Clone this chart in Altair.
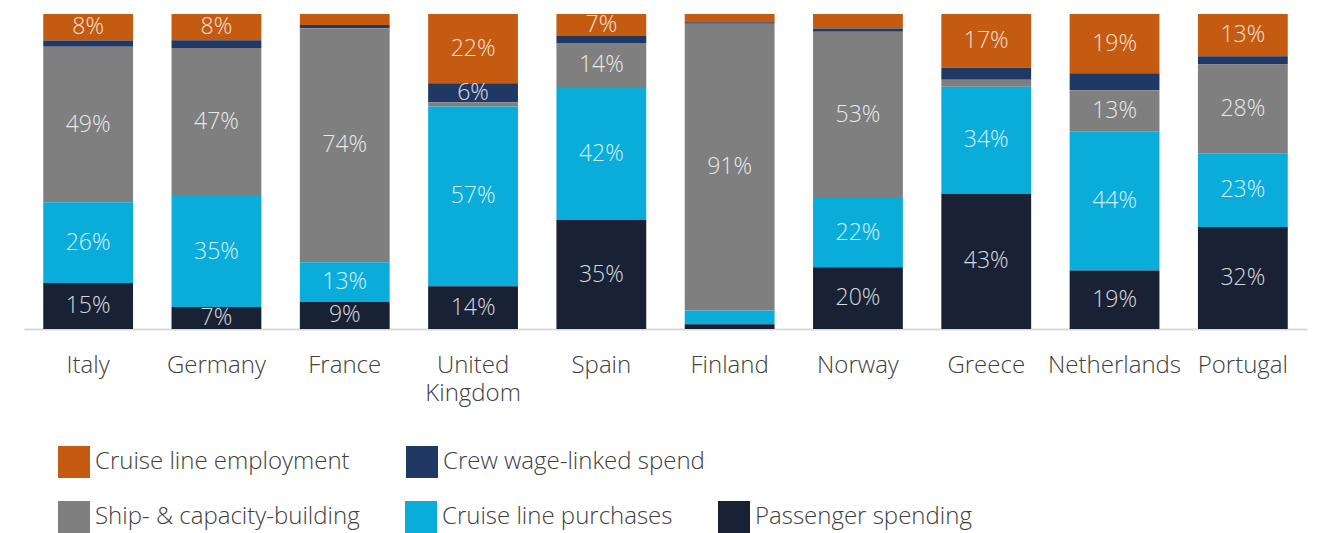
import altair as alt
import pandas as pd

countries = ["Italy", "Germany", "France", "United Kingdom", "Spain",
             "Finland", "Norway", "Greece", "Netherlands", "Portugal"]
categories = ["Cruise line employment", "Crew wage-linked spend",
              "Ship- & capacity-building", "Cruise line purchases",
              "Passenger spending"]
employment = [8.4, 8.3, 3.5, 22, 7, 2.6, 4.6, 17.1, 18.8, 13.4]
crew = [2, 2.5, 1, 6, 2.2, 0.5, 1, 3.8, 5.4, 2.6]
ship = [49.4, 47, 74.3, 1.4, 14, 91, 52.8, 2.2, 13, 28.2]
purchases = [25.6, 35.2, 12.6, 57, 42.2, 4.4, 22, 34, 44.2, 23.4]
passenger = [14.6, 7, 8.6, 13.6, 34.6, 1.5, 19.6, 42.9, 18.6, 32.4]
colors = ["#C55A11", "#203864", "#7F7F7F", "#0AACDA", "#192135"]

series = [employment, crew, ship, purchases, passenger]
rows = []
for ci, cat in enumerate(categories):
    for i, c in enumerate(countries):
        rows.append({"country": c, "category": cat, "value": series[ci][i],
                     "order": len(categories) - 1 - ci})
df = pd.DataFrame(rows)

FONT = "Open Sans"
row1 = categories[:2]
row2 = categories[2:]

base = alt.Chart(df).transform_stack(
    stack="value", groupby=["country"], as_=["y0", "y1"],
    sort=[alt.SortField("order", order="ascending")], offset="normalize"
).transform_calculate(
    mid="(datum.y0 + datum.y1) / 2",
    label="format(datum.value, '.0f') + '%'"
)

xenc = alt.X(
    "country:N", sort=countries,
    scale=alt.Scale(paddingInner=0.3, paddingOuter=0.15),
    axis=alt.Axis(title=None, labelAngle=0, ticks=False, domainColor="#d9d9d9",
                  domainWidth=2, labelFontSize=24, labelColor="#404040",
                  labelFont=FONT, labelFontWeight=300, labelPadding=24,
                  labelLineHeight=28, labelLimit=0,
                  labelExpr="datum.label == 'United Kingdom' ? ['United', 'Kingdom'] : datum.label")
)
yenc = alt.Y("y0:Q", scale=alt.Scale(domain=[0, 1]), axis=None)


def legend(y, pad):
    return alt.Legend(
        title=None, orient="none", legendX=34, legendY=y,
        direction="horizontal", symbolType="square", symbolSize=1024,
        symbolStrokeWidth=0, labelFont=FONT, labelFontWeight=300,
        labelFontSize=24, labelColor="#404040", labelOffset=5,
        columnPadding=pad, padding=0, labelLimit=0
    )


bars1 = base.transform_filter(
    alt.FieldOneOfPredicate(field="category", oneOf=row1)
).mark_bar().encode(
    x=xenc, y=yenc, y2="y1:Q",
    color=alt.Color("category:N",
                    scale=alt.Scale(domain=row1, range=colors[:2]),
                    legend=legend(432, 56))
)

bars2 = base.transform_filter(
    alt.FieldOneOfPredicate(field="category", oneOf=row2)
).mark_bar().encode(
    x=xenc, y=yenc, y2="y1:Q",
    fill=alt.Fill("category:N",
                  scale=alt.Scale(domain=row2, range=colors[2:]),
                  legend=legend(487, 45))
)

texts = base.transform_filter("datum.value >= 6").mark_text(
    color="white", opacity=0.82, fontSize=23, font=FONT, fontWeight=300
).encode(
    x=alt.X("country:N", sort=countries),
    y=alt.Y("mid:Q"),
    text="label:N"
)

chart = alt.layer(bars1, bars2, texts).properties(
    width=1283, height=315,
    padding={"left": 16, "top": 5, "right": 5, "bottom": 0}
).configure_view(stroke=None)

chart.save("out.html", embed_options={"renderer": "svg", "actions": False})
